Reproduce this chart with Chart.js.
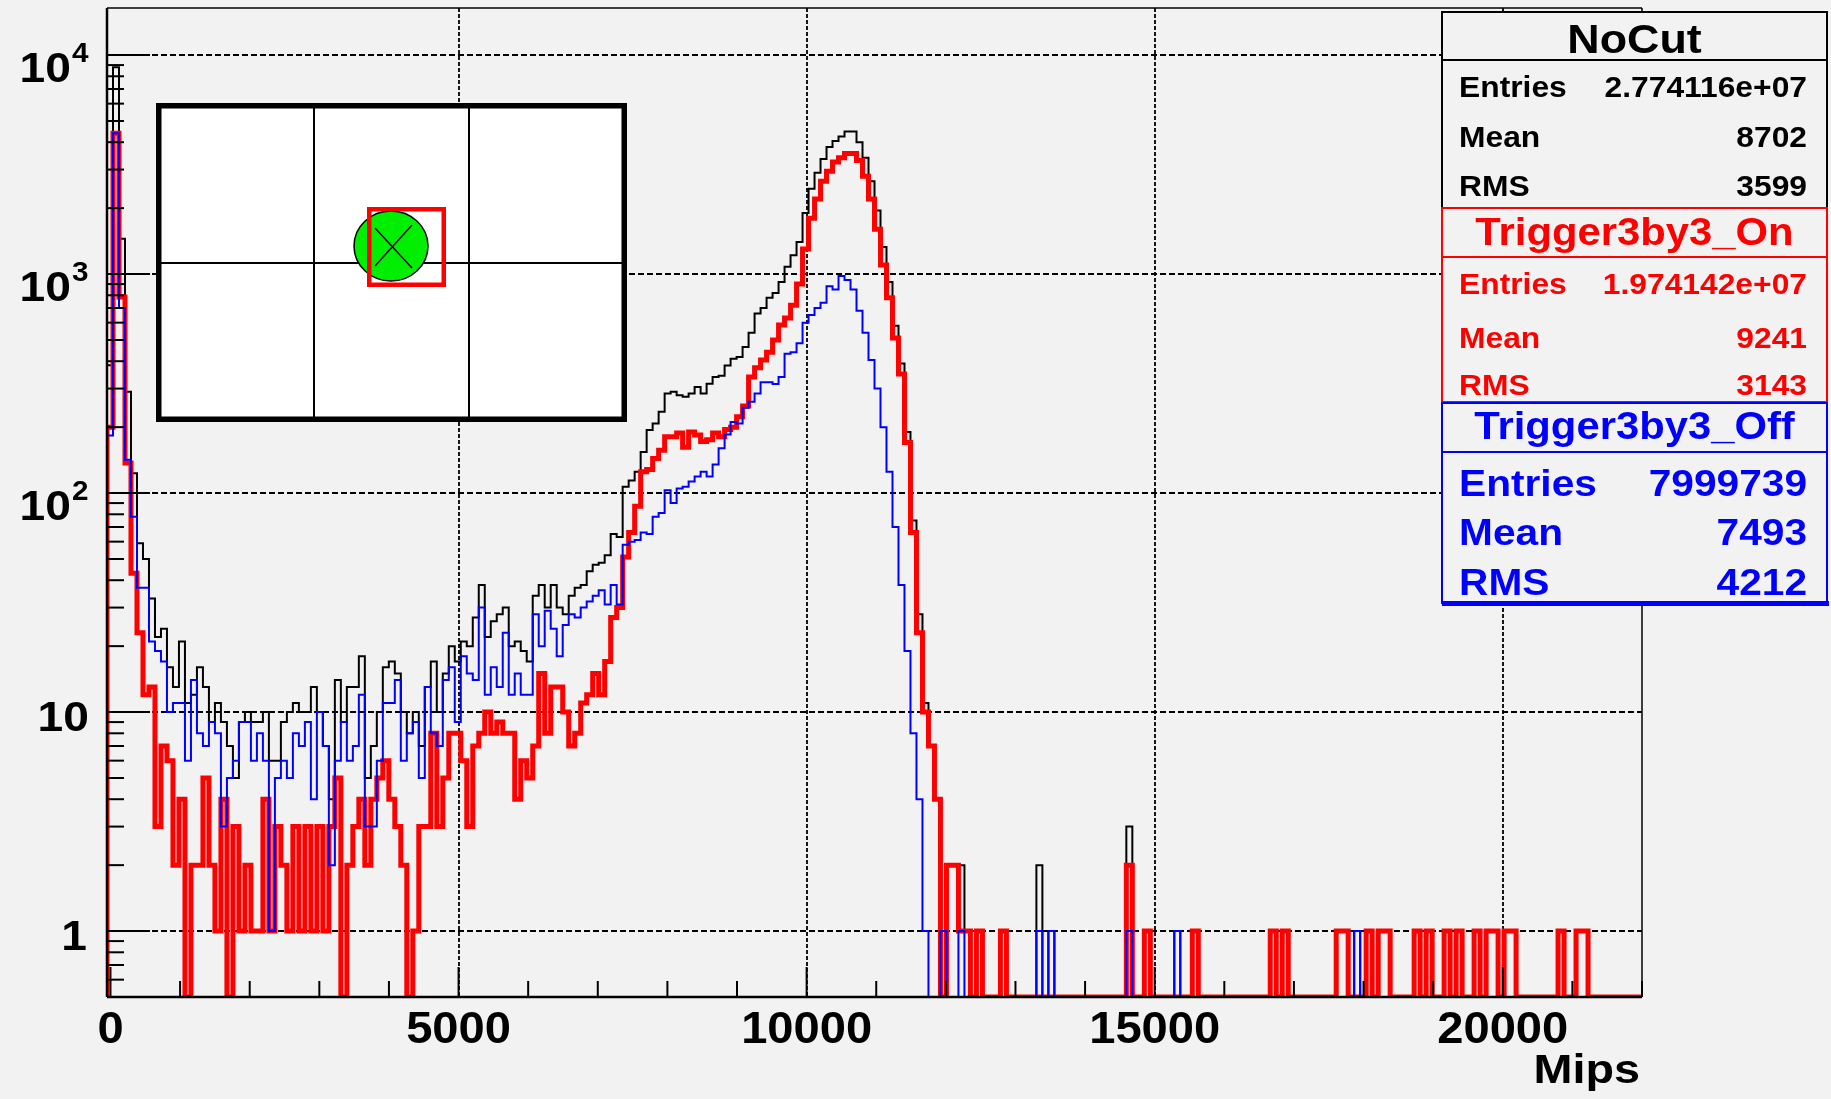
<!DOCTYPE html>
<html>
<head>
<meta charset="utf-8">
<title>NoCut / Trigger3by3 - Mips</title>
<script src="https://cdn.jsdelivr.net/npm/chart.js@4.4.1/dist/chart.umd.min.js"></script>
<style>
  html, body { margin: 0; padding: 0; background: #f2f2f2; }
  #wrap { width: 1831px; height: 1099px; }
</style>
</head>
<body>
<div id="wrap"><canvas id="chart" width="1831" height="1099"></canvas></div>
<script>
'use strict';

// histogram binning (Mips), 256 bins
var binLow = -50;
var binHigh = 22000;

// counts per bin
var noCut = [
  383, 8800, 1450, 290, 123, 59, 50, 33, 22, 24, 16, 13, 21, 11, 12, 16,
  13, 9, 11, 9, 7, 5, 9, 10, 9, 9, 10, 6, 6, 9, 10, 11,
  10, 10, 13, 10, 7, 4, 14, 9, 13, 13, 18, 5, 7, 10, 16, 17,
  15, 10, 8, 10, 7, 13, 17, 10, 15, 20, 17, 21, 20, 27, 38, 22,
  26, 28, 30, 20, 21, 19, 17, 34, 38, 30, 38, 30, 28, 34, 37, 38,
  44, 47, 48, 52, 65, 63, 107, 114, 125, 154, 194, 208, 235, 285, 290, 280,
  275, 285, 305, 285, 316, 339, 343, 382, 411, 418, 464, 540, 660, 700, 780, 820,
  920, 1080, 1220, 1400, 1900, 2450, 2900, 3350, 3800, 4050, 4250, 4480, 4480, 4000, 3400, 2650,
  1950, 1330, 920, 580, 390, 190, 75, 28, 11, 7, 4, 1, 2, 2, 2, 1,
  0, 1, 0, 0, 0, 1, 0, 0, 0, 0, 0, 2, 0, 1, 0, 0,
  0, 0, 0, 0, 0, 0, 0, 0, 0, 0, 3, 0, 0, 1, 0, 0,
  0, 0, 1, 0, 0, 1, 0, 0, 0, 0, 0, 0, 0, 0, 0, 0,
  0, 0, 1, 0, 1, 0, 0, 0, 0, 0, 0, 0, 0, 1, 1, 0,
  1, 0, 1, 0, 1, 1, 0, 0, 0, 0, 1, 0, 1, 0, 0, 1,
  0, 1, 0, 0, 1, 0, 1, 1, 0, 1, 1, 0, 0, 0, 0, 0,
  0, 0, 1, 0, 0, 1, 1, 0, 0, 0, 0, 0, 0, 0, 0, 0
];

var trigOn = [
  200, 4400, 785, 137, 43, 23, 12, 13, 3, 7, 6, 2, 4, 0, 2, 2,
  5, 2, 1, 4, 0, 3, 1, 2, 1, 1, 4, 1, 3, 2, 1, 3,
  1, 3, 1, 3, 1, 3, 5, 0, 2, 3, 4, 2, 4, 5, 6, 4,
  3, 2, 0, 1, 3, 3, 8, 3, 5, 8, 8, 6, 3, 7, 8, 10,
  8, 9, 8, 8, 4, 6, 5, 7, 15, 8, 13, 13, 10, 7, 8, 11,
  12, 15, 12, 17, 27, 30, 51, 66, 87, 125, 128, 144, 157, 181, 181, 188,
  162, 190, 184, 172, 175, 188, 181, 195, 200, 223, 250, 339, 373, 405, 440, 500,
  585, 630, 720, 900, 1300, 1800, 2200, 2650, 2950, 3250, 3400, 3550, 3550, 3300, 2800, 2200,
  1600, 1100, 780, 510, 350, 170, 66, 23, 10, 7, 4, 0, 2, 2, 1, 1,
  0, 1, 0, 0, 0, 1, 0, 0, 0, 0, 0, 0, 0, 0, 0, 0,
  0, 0, 0, 0, 0, 0, 0, 0, 0, 0, 2, 0, 0, 1, 0, 0,
  0, 0, 0, 0, 0, 1, 0, 0, 0, 0, 0, 0, 0, 0, 0, 0,
  0, 0, 1, 0, 1, 0, 0, 0, 0, 0, 0, 0, 0, 1, 1, 0,
  0, 0, 1, 0, 1, 1, 0, 0, 0, 0, 1, 0, 1, 0, 0, 1,
  0, 1, 0, 0, 1, 0, 1, 1, 0, 1, 1, 0, 0, 0, 0, 0,
  0, 0, 1, 0, 0, 1, 1, 0, 0, 0, 0, 0, 0, 0, 0, 0
];

var trigOff = [
  183, 4400, 700, 142, 78, 37, 37, 21, 19, 17, 10, 11, 11, 6, 14, 8,
  7, 9, 8, 3, 5, 6, 9, 9, 6, 8, 6, 1, 5, 6, 5, 8,
  7, 9, 4, 10, 7, 2, 6, 9, 6, 7, 12, 3, 3, 6, 11, 11,
  14, 6, 8, 9, 5, 13, 8, 7, 14, 16, 9, 18, 15, 14, 30, 12,
  16, 13, 23, 12, 15, 12, 12, 28, 20, 29, 24, 18, 25, 28, 27, 30,
  32, 34, 36, 31, 38, 31, 58, 60, 61, 66, 65, 78, 81, 103, 90, 105,
  107, 113, 119, 125, 119, 135, 160, 185, 211, 208, 245, 261, 285, 321, 321, 315,
  339, 433, 440, 483, 600, 650, 700, 740, 880, 850, 980, 940, 850, 680, 540, 405,
  300, 200, 125, 70, 38, 19, 8, 4, 1, 0, 0, 1, 0, 0, 1, 0,
  0, 0, 0, 0, 0, 0, 0, 0, 0, 0, 0, 1, 0, 1, 0, 0,
  0, 0, 0, 0, 0, 0, 0, 0, 0, 0, 1, 0, 0, 0, 0, 0,
  0, 0, 1, 0, 0, 0, 0, 0, 0, 0, 0, 0, 0, 0, 0, 0,
  0, 0, 0, 0, 0, 0, 0, 0, 0, 0, 0, 0, 0, 0, 0, 0,
  1, 0, 0, 0, 0, 0, 0, 0, 0, 0, 0, 0, 0, 0, 0, 0,
  0, 0, 0, 0, 0, 0, 0, 0, 0, 0, 0, 0, 0, 0, 0, 0,
  0, 0, 0, 0, 0, 0, 0, 0, 0, 0, 0, 0, 0, 0, 0, 0
];

// axes
var xMin = -50, xMax = 22000;
var yMin = 0.5, yMax = 16400;
var xTickValues = [0, 5000, 10000, 15000, 20000];
var xTickLabels = ['0', '5000', '10000', '15000', '20000'];
var yDecades = [1, 10, 100, 1000, 10000];
var yTickLabels = [['1', ''], ['10', ''], ['10', '2'], ['10', '3'], ['10', '4']];
var xTitle = 'Mips';

// stat boxes
var statTitles = ['NoCut', 'Trigger3by3_On', 'Trigger3by3_Off'];
var statEntries = ['2.774116e+07', '1.974142e+07', '7999739'];
var statMeans = ['8702', '9241', '7493'];
var statRms = ['3599', '3143', '4212'];

var BG = '#f2f2f2';
var FONT = '"Liberation Sans", Arial, Helvetica, sans-serif';

function histPoints(values) {
  var w = (binHigh - binLow) / values.length;
  var pts = [{x: binLow, y: yMin}];
  values.forEach(function (v, i) {
    pts.push({x: binLow + i * w, y: v > 0 ? v : yMin});
  });
  var last = values[values.length - 1];
  pts.push({x: binHigh, y: last > 0 ? last : yMin});
  return pts;
}

function drawText(ctx, str, x, y, size, color, align, sx) {
  ctx.save();
  ctx.font = 'bold ' + size + 'px ' + FONT;
  ctx.fillStyle = color;
  ctx.textBaseline = 'alphabetic';
  ctx.textAlign = 'left';
  var w = ctx.measureText(str).width * sx;
  var left = align === 'right' ? x - w : (align === 'center' ? x - w / 2 : x);
  ctx.translate(left, y);
  ctx.scale(sx, 1);
  ctx.fillText(str, 0, 0);
  ctx.restore();
}

function seg(ctx, x1, y1, x2, y2) {
  ctx.beginPath();
  ctx.moveTo(x1, y1);
  ctx.lineTo(x2, y2);
  ctx.stroke();
}

function drawInset(ctx) {
  var L = 156, T = 103, R = 627, B = 422;
  ctx.save();
  ctx.fillStyle = '#ffffff';
  ctx.fillRect(L, T, R - L, B - T);
  ctx.strokeStyle = '#000';
  ctx.lineWidth = 2;
  seg(ctx, 314, T, 314, B);
  seg(ctx, 469, T, 469, B);
  seg(ctx, L, 263, R, 263);
  ctx.lineWidth = 5.5;
  ctx.strokeRect(L + 2.75, T + 2.75, R - L - 5.5, B - T - 5.5);
  ctx.beginPath();
  ctx.ellipse(391, 246, 37, 35, 0, 0, 2 * Math.PI);
  ctx.fillStyle = '#00ee00';
  ctx.fill();
  ctx.lineWidth = 1.5;
  ctx.stroke();
  seg(ctx, 375, 228, 412, 268);
  seg(ctx, 412, 225, 375, 266);
  ctx.strokeStyle = '#ff0000';
  ctx.lineWidth = 4.5;
  ctx.strokeRect(369.25, 209.25, 74.5, 75.5);
  ctx.restore();
}

function drawStats(ctx) {
  var L = 1442, R = 1827;
  var boxes = [
    {top: 12, sep: 60, bottom: 208, color: '#000000', tSize: 40, tSx: 1.12, tBase: 53,
      rSize: 30, rSx: 1.06, rBase: [97, 147, 196]},
    {top: 208, sep: 257, bottom: 402, color: '#ff0000', tSize: 38, tSx: 1.1, tBase: 245,
      rSize: 30, rSx: 1.06, rBase: [294, 348, 395]},
    {top: 403, sep: 452, bottom: 603, color: '#0000ff', tSize: 38, tSx: 1.1, tBase: 439,
      rSize: 36, rSx: 1.13, rBase: [496, 545, 595]}
  ];
  ctx.save();
  boxes.forEach(function (b, i) {
    ctx.fillStyle = BG;
    ctx.fillRect(L, b.top, R - L, b.bottom - b.top);
    ctx.strokeStyle = b.color;
    ctx.lineWidth = 2;
    ctx.strokeRect(L, b.top, R - L, b.bottom - b.top);
    seg(ctx, L, b.sep, R, b.sep);
    drawText(ctx, statTitles[i], (L + R) / 2, b.tBase, b.tSize, b.color, 'center', b.tSx);
    var labels = ['Entries', 'Mean', 'RMS'];
    var vals = [statEntries[i], statMeans[i], statRms[i]];
    labels.forEach(function (lab, k) {
      drawText(ctx, lab, 1459, b.rBase[k], b.rSize, b.color, 'left', b.rSx);
      drawText(ctx, vals[k], 1807, b.rBase[k], b.rSize, b.color, 'right', b.rSx);
    });
  });
  // shadow under the last box
  ctx.fillStyle = '#0000ff';
  ctx.fillRect(L, 601, R - L + 2, 5);
  ctx.restore();
}

var rootFrame = {
  id: 'rootFrame',
  beforeDraw: function (chart) {
    var ctx = chart.ctx;
    ctx.save();
    ctx.fillStyle = BG;
    ctx.fillRect(0, 0, chart.width, chart.height);
    ctx.restore();
  },
  beforeDatasetsDraw: function (chart) {
    var ctx = chart.ctx, ca = chart.chartArea;
    var xs = chart.scales.x, ys = chart.scales.y;
    ctx.save();
    ctx.strokeStyle = '#000';
    ctx.lineWidth = 2;
    ctx.setLineDash([6, 3]);
    yDecades.forEach(function (v) {
      var py = Math.round(ys.getPixelForValue(v));
      seg(ctx, ca.left, py, ca.right, py);
    });
    ctx.lineWidth = 1.8;
    ctx.setLineDash([4, 2]);
    xTickValues.forEach(function (v) {
      if (v <= 0) return;
      var px = Math.round(xs.getPixelForValue(v));
      seg(ctx, px, ca.top, px, ca.bottom);
    });
    ctx.restore();
  },
  afterDatasetsDraw: function (chart) {
    var ctx = chart.ctx, ca = chart.chartArea;
    var xs = chart.scales.x, ys = chart.scales.y;
    ctx.save();
    ctx.strokeStyle = '#000';
    // frame
    ctx.lineWidth = 1.5;
    seg(ctx, ca.left, ca.top, ca.right, ca.top);
    seg(ctx, ca.right, ca.top, ca.right, ca.bottom);
    ctx.lineWidth = 2.5;
    seg(ctx, ca.left, ca.top, ca.left, ca.bottom);
    seg(ctx, ca.left, ca.bottom, ca.right, ca.bottom);
    // y ticks (inside)
    ctx.lineWidth = 2;
    for (var e = -1; e <= 4; e++) {
      for (var m = 1; m <= 9; m++) {
        var v = m * Math.pow(10, e);
        if (v < yMin || v > yMax) continue;
        var py = ys.getPixelForValue(v);
        seg(ctx, ca.left, py, ca.left + (m === 1 ? 43 : 17), py);
      }
    }
    // x ticks (inside)
    for (var t = 0; t <= xMax; t += 1000) {
      var px = xs.getPixelForValue(t);
      seg(ctx, px, ca.bottom, px, ca.bottom - (t % 5000 === 0 ? 30 : 16));
    }
    ctx.restore();

    // tick labels
    yDecades.forEach(function (v, i) {
      var py = ys.getPixelForValue(v);
      var lab = yTickLabels[i];
      if (lab[1]) {
        drawText(ctx, lab[0], 71, py + 27, 42, '#000', 'right', 1.1);
        drawText(ctx, lab[1], 72, py + 7, 27, '#000', 'left', 1.1);
      } else {
        drawText(ctx, lab[0], lab[0] === '1' ? 87 : 89, py + 19, 42, '#000', 'right', 1.1);
      }
    });
    xTickValues.forEach(function (v, i) {
      drawText(ctx, xTickLabels[i], xs.getPixelForValue(v), 1043, 44, '#000', 'center', 1.07);
    });
    drawText(ctx, xTitle, 1640, 1083, 40, '#000', 'right', 1.17);

    drawInset(ctx);
    drawStats(ctx);
  }
};

var ctx = document.getElementById('chart').getContext('2d');
var chart = new Chart(ctx, {
  type: 'line',
  data: {
    datasets: [{
      label: 'NoCut',
      data: histPoints(noCut),
      borderColor: '#000000',
      borderWidth: 2,
      order: 3
    }, {
      label: 'Trigger3by3_On',
      data: histPoints(trigOn),
      borderColor: '#ff0000',
      borderWidth: 5,
      order: 2
    }, {
      label: 'Trigger3by3_Off',
      data: histPoints(trigOff),
      borderColor: '#0000ff',
      borderWidth: 2,
      order: 1
    }]
  },
  options: {
    responsive: false,
    animation: false,
    devicePixelRatio: 1,
    layout: { padding: { left: 107, right: 189, top: 8, bottom: 102 } },
    datasets: {
      line: {
        stepped: true,
        fill: false,
        tension: 0,
        pointRadius: 0,
        borderJoinStyle: 'miter',
        borderCapStyle: 'butt'
      }
    },
    scales: {
      x: { type: 'linear', display: false, min: xMin, max: xMax },
      y: { type: 'logarithmic', display: false, min: yMin, max: yMax }
    },
    plugins: {
      legend: { display: false },
      tooltip: { enabled: false }
    }
  },
  plugins: [rootFrame]
});
</script>
</body>
</html>
